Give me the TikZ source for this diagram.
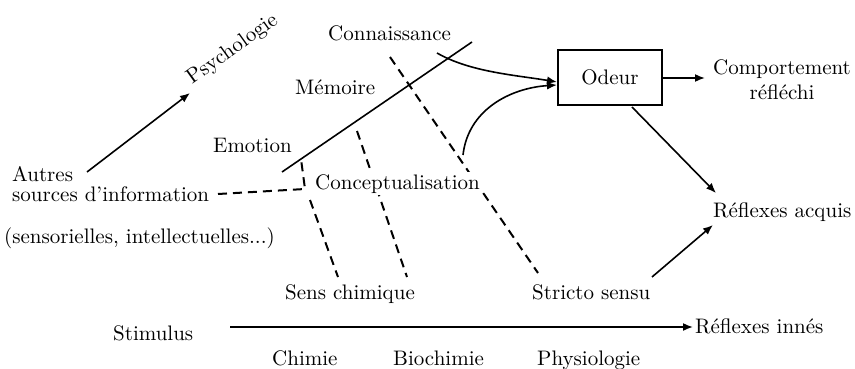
\documentclass[tikz,border=0pt]{standalone}
\usepackage{fontspec}
\setmainfont{lmroman10-regular.otf}
\usetikzlibrary{arrows.meta,backgrounds}
\begin{document}
\begin{tikzpicture}[x=1pt,y=-1pt,
  lbl/.style={inner sep=0pt,font=\fontsize{21}{25}\selectfont},
  solidln/.style={line width=1.6pt},
  arr/.style={line width=1.6pt,-{Latex[length=10pt,width=8pt]}},
  dashln/.style={line width=2pt,dash pattern=on 9pt off 6pt},
  boxst/.style={draw,line width=2pt,minimum width=104pt,minimum height=55pt,inner sep=0pt,font=\fontsize{21}{25}\selectfont}]
\useasboundingbox (0,0) rectangle (855,369);

% text nodes
\node[lbl,anchor=base west,rotate=35.5] (psy) at (192,85) {Psychologie};
\node[lbl,anchor=base west] (autres) at (12,181) {Autres};
\node[lbl,anchor=base west] (sources) at (12,201) {sources d’information};
\node[lbl,anchor=base west] (sensint) at (4,243) {(sensorielles, intellectuelles...)};
\node[lbl,anchor=base west] (emotion) at (213,153) {Emotion};
\node[lbl,anchor=base west] (memoire) at (295,95) {Mémoire};
\node[lbl,anchor=base west] (conn) at (328,41) {Connaissance};
\node[lbl,anchor=base west,fill=white,inner sep=2pt] (concept) at (313,189) {Conceptualisation};
\node[lbl,anchor=base west] (sens) at (285,299) {Sens chimique};
\node[lbl,anchor=base west] (stricto) at (532,299) {Stricto sensu};
\node[lbl,anchor=base west] (stim) at (113,340) {Stimulus};
\node[lbl,anchor=base west] (rinnes) at (695,333) {Réflexes innés};
\node[lbl,anchor=base west] (chimie) at (272,365) {Chimie};
\node[lbl,anchor=base west] (biochimie) at (393,365) {Biochimie};
\node[lbl,anchor=base west] (physio) at (537,365) {Physiologie};
\node[boxst] (odeur) at (610,77.5) {Odeur};
\node[lbl,align=center] (comp) at (782,80.2) {Comportement\\réfléchi};
\node[lbl,anchor=base west] (racq) at (713,217) {Réflexes acquis};

% named end points
\coordinate (psyS) at (87,172);
\coordinate (psyE) at (190,93);
\coordinate (mA) at (282,172);
\coordinate (mB) at (472,42);
\coordinate (srcE) at (218,194);
\coordinate (corner) at (305,189);
\coordinate (emoT) at (301,159);
\coordinate (scA) at (310,200);
\coordinate (scB) at (338,277);
\coordinate (memT) at (357,131);
\coordinate (memB) at (407,277);
\coordinate (conT) at (390,57);
\coordinate (conB) at (538,273);
\coordinate (c1S) at (437,53);
\coordinate (c2S) at (463,155);
\coordinate (odIn1) at (557,82);
\coordinate (odIn2) at (557,85);
\coordinate (odOut) at (662,78);
\coordinate (compIn) at (705,78);
\coordinate (odBot) at (632,107);
\coordinate (racqIn1) at (716,193);
\coordinate (strOut) at (652,277);
\coordinate (racqIn2) at (713,225);
\coordinate (stimS) at (230,327);
\coordinate (stimE) at (693,327);

\begin{scope}[on background layer]
\draw[dashln] (srcE) -- (corner) -- (emoT);
\draw[dashln] (scA) -- (scB);
\draw[dashln] (memT) -- (memB);
\draw[dashln] (conT) -- (conB);
\end{scope}

\draw[solidln] (mA) -- (mB);
\draw[arr] (psyS) -- (psyE);
\draw[arr] (c1S) .. controls (470,72) and (515,75) .. (odIn1);
\draw[arr] (c2S) .. controls (468,110) and (510,88) .. (odIn2);
\draw[arr] (odOut) -- (compIn);
\draw[arr] (odBot) -- (racqIn1);
\draw[arr] (strOut) -- (racqIn2);
\draw[arr] (stimS) -- (stimE);
\end{tikzpicture}
\end{document}
